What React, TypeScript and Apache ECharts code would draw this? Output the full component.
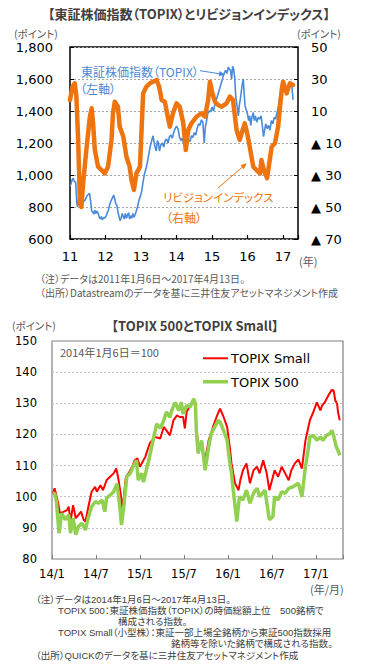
import React, { useEffect, useRef } from "react";
import * as echarts from "echarts";

// ---------- Chart 1: TOPIX (left axis) and revision index (right axis) ----------
const yearLabels = ["11", "12", "13", "14", "15", "16", "17"];
const rightLabels = ["▲ 70", "▲ 50", "▲ 30", "▲ 10", "10", "30", "50"];
const REV_OFFSET = 70; // right axis runs -70..50

const topixData: [number, number][] = [
  [2011.0, 930], [2011.03, 945], [2011.06, 970], [2011.09, 980], [2011.12, 960],
  [2011.16, 955], [2011.19, 830], [2011.21, 800], [2011.24, 850], [2011.28, 860],
  [2011.32, 840], [2011.36, 850], [2011.4, 835], [2011.44, 850], [2011.48, 870],
  [2011.52, 880], [2011.55, 885], [2011.58, 840], [2011.61, 775], [2011.64, 770],
  [2011.67, 755], [2011.7, 780], [2011.73, 760], [2011.76, 775], [2011.79, 760],
  [2011.82, 740], [2011.85, 725], [2011.88, 740], [2011.91, 720], [2011.95, 735],
  [2011.98, 730], [2012.02, 745], [2012.05, 765], [2012.08, 780], [2012.11, 810],
  [2012.14, 830], [2012.17, 845], [2012.2, 860], [2012.23, 875], [2012.26, 850],
  [2012.29, 820], [2012.32, 810], [2012.35, 770], [2012.38, 740], [2012.41, 715],
  [2012.44, 730], [2012.47, 760], [2012.5, 740], [2012.53, 725], [2012.56, 760],
  [2012.59, 730], [2012.62, 750], [2012.65, 765], [2012.68, 725], [2012.71, 745],
  [2012.74, 730], [2012.77, 760], [2012.8, 735], [2012.83, 750], [2012.86, 770],
  [2012.9, 800], [2012.94, 840], [2012.98, 865], [2013.02, 900], [2013.06, 960],
  [2013.1, 1010], [2013.14, 1040], [2013.18, 1080], [2013.22, 1130], [2013.26, 1180],
  [2013.3, 1215], [2013.34, 1245], [2013.37, 1200], [2013.4, 1170], [2013.43, 1150],
  [2013.46, 1215], [2013.49, 1200], [2013.52, 1150], [2013.56, 1190], [2013.6, 1200],
  [2013.64, 1175], [2013.68, 1215], [2013.72, 1225], [2013.76, 1200], [2013.8, 1240],
  [2013.84, 1250], [2013.88, 1230], [2013.92, 1265], [2013.96, 1290], [2014.0, 1305],
  [2014.04, 1290], [2014.08, 1240], [2014.12, 1215], [2014.16, 1230], [2014.2, 1195],
  [2014.24, 1210], [2014.28, 1155], [2014.31, 1195], [2014.34, 1220], [2014.38, 1210],
  [2014.42, 1245], [2014.46, 1235], [2014.5, 1265], [2014.54, 1250], [2014.58, 1290],
  [2014.62, 1320], [2014.66, 1310], [2014.7, 1345], [2014.74, 1330], [2014.78, 1200],
  [2014.81, 1300], [2014.84, 1330], [2014.88, 1385], [2014.92, 1400], [2014.96, 1395],
  [2015.0, 1425], [2015.04, 1400], [2015.08, 1440], [2015.12, 1470], [2015.16, 1500],
  [2015.2, 1530], [2015.24, 1560], [2015.28, 1590], [2015.31, 1615], [2015.35, 1640],
  [2015.38, 1655], [2015.42, 1635], [2015.46, 1675], [2015.49, 1660], [2015.52, 1655],
  [2015.55, 1600], [2015.58, 1680], [2015.61, 1660], [2015.64, 1600], [2015.67, 1480],
  [2015.7, 1440], [2015.74, 1370], [2015.77, 1440], [2015.8, 1480], [2015.84, 1550],
  [2015.88, 1600], [2015.9, 1520], [2015.93, 1430], [2015.96, 1410], [2016.0, 1380],
  [2016.03, 1340], [2016.06, 1370], [2016.09, 1310], [2016.12, 1360], [2016.16, 1390],
  [2016.19, 1340], [2016.22, 1370], [2016.26, 1330], [2016.3, 1360], [2016.34, 1350],
  [2016.38, 1370], [2016.42, 1300], [2016.45, 1240], [2016.48, 1280], [2016.51, 1320],
  [2016.55, 1290], [2016.59, 1310], [2016.63, 1280], [2016.67, 1340], [2016.71, 1320],
  [2016.75, 1360], [2016.79, 1350], [2016.83, 1390], [2016.86, 1420], [2016.9, 1480],
  [2016.94, 1510], [2016.98, 1540], [2017.02, 1550], [2017.06, 1530], [2017.1, 1510],
  [2017.14, 1545], [2017.18, 1560], [2017.22, 1570], [2017.25, 1550], [2017.28, 1470],
];

const revisionData: [number, number][] = [
  [2011.0, 16.9], [2011.07, 25.2], [2011.135, 27.3], [2011.18, 19], [2011.23, -8],
  [2011.28, -47.7], [2011.32, -50], [2011.37, -35], [2011.46, -14.4], [2011.56, 6.4],
  [2011.61, 11.7], [2011.65, 2.3], [2011.7, -14.4], [2011.79, -24.8], [2011.89, -26.9],
  [2011.98, -29], [2012.07, -24.8], [2012.17, -8], [2012.21, 8.6], [2012.26, 15.8],
  [2012.35, 12.7], [2012.4, 0.2], [2012.5, -6], [2012.59, -18.6], [2012.68, -24.8],
  [2012.73, -33], [2012.8, -39.4], [2012.87, -29], [2012.97, -24.8], [2013.06, 21],
  [2013.15, 25.2], [2013.25, 27.3], [2013.44, 29.4], [2013.51, 25.2], [2013.58, 16.9],
  [2013.67, 15.8], [2013.81, 0.2], [2013.9, 8.6], [2014.0, 14.8], [2014.09, 12.7],
  [2014.19, 2.3], [2014.26, -14.4], [2014.33, -1.9], [2014.42, 2.3], [2014.56, 6.4],
  [2014.7, 8.6], [2014.8, 6.4], [2014.89, 16.9], [2014.94, 28.3], [2015.01, 21],
  [2015.08, 15.8], [2015.17, 13.75], [2015.27, 12.7], [2015.41, 14.8], [2015.5, 19],
  [2015.59, 16.9], [2015.69, -1.9], [2015.78, -8], [2015.86, -1.9], [2015.92, 2.3],
  [2015.99, -4], [2016.06, -12.3], [2016.16, -24.8], [2016.25, -26.9], [2016.35, -29],
  [2016.39, -20.6], [2016.46, -26.9], [2016.55, -32], [2016.61, -22.7], [2016.68, -12.3],
  [2016.77, -10.2], [2016.86, 0.2], [2016.96, 23.1], [2017.0, 28.3], [2017.1, 21],
  [2017.19, 27.3], [2017.28, 26.25],
];

// ---------- Chart 2: TOPIX 500 and TOPIX Small (2014/1/6 = 100) ----------
const monthLabels = ["14/1", "14/7", "15/1", "15/7", "16/1", "16/7", "17/1"];

const smallData: [number, number][] = [
  [2014.01, 101.1], [2014.03, 102.7], [2014.07, 97.9], [2014.09, 94.7], [2014.13, 95.1],
  [2014.17, 95.7], [2014.19, 96.8], [2014.21, 92.0], [2014.24, 97.3], [2014.27, 93.1],
  [2014.3, 94.2], [2014.33, 95.2], [2014.36, 92.6], [2014.38, 92.0], [2014.41, 96.3],
  [2014.45, 101.6], [2014.49, 103.2], [2014.51, 101.6], [2014.55, 103.7], [2014.58, 102.1],
  [2014.62, 105.3], [2014.66, 106.4], [2014.7, 107.5], [2014.73, 109.1], [2014.75, 106.4],
  [2014.78, 101.1], [2014.8, 95.7], [2014.82, 101.1], [2014.84, 106.4], [2014.87, 107.5],
  [2014.91, 109.6], [2014.94, 111.7], [2014.97, 112.3], [2015.0, 109.6], [2015.06, 112.8],
  [2015.11, 117.1], [2015.17, 119.2], [2015.23, 118.7], [2015.27, 122.4], [2015.3, 121.3],
  [2015.34, 119.7], [2015.38, 124.5], [2015.42, 126.1], [2015.45, 125.6], [2015.49, 125.6],
  [2015.51, 121.9], [2015.53, 127.2], [2015.57, 129.3], [2015.61, 130.9], [2015.63, 128.8],
  [2015.64, 122.4], [2015.66, 117.1], [2015.7, 116.0], [2015.74, 111.7], [2015.78, 118.1],
  [2015.83, 122.4], [2015.87, 125.6], [2015.91, 128.3], [2015.95, 125.6], [2015.99, 122.4],
  [2016.02, 116.0], [2016.04, 110.7], [2016.08, 104.3], [2016.12, 102.1], [2016.14, 105.3],
  [2016.17, 108.5], [2016.21, 110.7], [2016.25, 104.3], [2016.29, 108.5], [2016.33, 109.6],
  [2016.36, 107.5], [2016.4, 111.7], [2016.44, 107.5], [2016.47, 102.1], [2016.5, 105.3],
  [2016.53, 108.5], [2016.57, 106.4], [2016.61, 109.6], [2016.65, 107.5], [2016.69, 105.3],
  [2016.72, 108.5], [2016.76, 110.7], [2016.8, 112.0], [2016.84, 109.0], [2016.88, 118.0],
  [2016.93, 124.5], [2016.97, 127.2], [2017.01, 130.3], [2017.05, 127.7], [2017.07, 129.3],
  [2017.1, 130.3], [2017.14, 132.5], [2017.18, 134.3], [2017.2, 134.1], [2017.22, 130.9],
  [2017.24, 129.8], [2017.25, 127.2], [2017.27, 124.5],
];

const t500Data: [number, number][] = [
  [2014.01, 101.1], [2014.03, 101.1], [2014.05, 98.5], [2014.08, 88.3], [2014.11, 94.7],
  [2014.15, 92.6], [2014.19, 94.2], [2014.21, 88.3], [2014.24, 93.1], [2014.27, 87.8],
  [2014.3, 90.4], [2014.34, 91.5], [2014.38, 89.3], [2014.41, 93.1], [2014.45, 96.8],
  [2014.49, 98.4], [2014.53, 97.9], [2014.57, 98.9], [2014.6, 95.2], [2014.62, 99.5],
  [2014.66, 100.5], [2014.7, 101.6], [2014.74, 104.2], [2014.77, 96.8], [2014.79, 91.0],
  [2014.82, 97.9], [2014.85, 106.4], [2014.89, 107.5], [2014.92, 109.6], [2014.96, 111.7],
  [2014.98, 105.3], [2015.02, 107.5], [2015.04, 104.7], [2015.08, 109.6], [2015.1, 111.7],
  [2015.14, 117.0], [2015.19, 123.4], [2015.23, 122.0], [2015.27, 124.5], [2015.3, 127.2],
  [2015.34, 125.5], [2015.36, 127.7], [2015.4, 130.3], [2015.44, 127.7], [2015.47, 130.3],
  [2015.49, 126.6], [2015.53, 129.3], [2015.57, 128.8], [2015.61, 131.4], [2015.63, 129.8],
  [2015.64, 121.3], [2015.66, 113.9], [2015.7, 118.1], [2015.74, 108.5], [2015.78, 116.0],
  [2015.81, 120.3], [2015.85, 122.4], [2015.89, 124.5], [2015.91, 124.0], [2015.95, 121.3],
  [2015.99, 118.1], [2016.02, 111.0], [2016.04, 107.5], [2016.06, 102.1], [2016.1, 92.0],
  [2016.13, 100.0], [2016.17, 99.0], [2016.21, 102.1], [2016.25, 97.9], [2016.29, 101.1],
  [2016.33, 102.7], [2016.36, 100.0], [2016.42, 102.1], [2016.47, 92.6], [2016.51, 93.6],
  [2016.53, 100.0], [2016.57, 99.0], [2016.61, 101.6], [2016.65, 101.1], [2016.69, 102.7],
  [2016.74, 103.2], [2016.8, 104.3], [2016.84, 100.0], [2016.88, 109.6], [2016.91, 114.9],
  [2016.93, 119.2], [2016.97, 119.7], [2017.01, 118.1], [2017.05, 119.2], [2017.08, 118.1],
  [2017.12, 119.7], [2017.16, 120.3], [2017.18, 121.3], [2017.2, 119.7], [2017.23, 116.0],
  [2017.25, 114.9], [2017.27, 113.3],
];

const legendNames = ["TOPIX Small", "TOPIX 500"];

const NUM_FONT = "'DejaVu Sans', 'Noto Sans CJK JP', sans-serif";
const JP_FONT = "'Noto Sans CJK JP', sans-serif";
const NOTE_FONT = "'Liberation Sans', 'Noto Sans CJK JP', sans-serif";
const GRAY = "#595959";
const BLUE = "#4a8ad8";
const ORANGE = "#ee7410";
const RED = "#ff0000";
const GREEN = "#92d050";

const near = (a: number, b: number) => Math.abs(a - b) < 1e-6;

function txt(text: string, x: number, y: number, size: number, fill: string, opts: any = {}) {
  return {
    type: "text",
    x,
    y,
    silent: true,
    style: {
      text,
      fill,
      font: `${opts.bold ? "bold " : ""}${size}px ${opts.family || JP_FONT}`,
      textAlign: opts.align || "left",
      textVerticalAlign: "middle",
    },
  };
}

export default function App() {
  const ref = useRef<HTMLDivElement>(null);
  useEffect(() => {
    document.body.style.margin = "0";
    const st = document.createElement("style");
    st.textContent = "svg text { font-feature-settings: 'palt' 1 !important; }";
    document.head.appendChild(st);
    if (!ref.current) return;
    const chart = echarts.init(ref.current, null, { renderer: "svg" });

    const option: any = {
      animation: false,
      backgroundColor: "#ffffff",
      grid: [
        { left: 70, top: 47, width: 228, height: 192, show: true, borderColor: "#000", borderWidth: 1.5, backgroundColor: "transparent" },
        { left: 52, top: 341, width: 291, height: 218, show: true, borderColor: "#808080", borderWidth: 1.2, backgroundColor: "transparent" },
      ],
      xAxis: [
        {
          type: "value", gridIndex: 0, min: 2011, max: 2017.42, interval: 1,
          axisLine: { show: false },
          axisTick: { show: true, inside: true, length: 4, lineStyle: { color: "#000", width: 1.2 } },
          axisLabel: {
            margin: 11, color: "#000", fontSize: 13, fontFamily: NUM_FONT,
            formatter: (v: number) => {
              const i = Math.round(v - 2011);
              return near(v, 2011 + i) && yearLabels[i] ? yearLabels[i] : "";
            },
          },
          splitLine: { show: false },
        },
        {
          type: "value", gridIndex: 1, min: 2014, max: 2017.307, interval: 0.5,
          axisLine: { show: false },
          axisTick: { show: true, inside: true, length: 4, lineStyle: { color: "#808080" } },
          axisLabel: {
            margin: 9, color: "#000", fontSize: 11.5, fontFamily: NUM_FONT,
            formatter: (v: number) => {
              const i = Math.round((v - 2014) * 2);
              return near(v, 2014 + i / 2) && monthLabels[i] ? monthLabels[i] : "";
            },
          },
          splitLine: { show: false },
        },
      ],
      yAxis: [
        {
          type: "value", gridIndex: 0, min: 600, max: 1800, interval: 200, position: "left",
          axisLine: { show: false },
          axisTick: { show: true, inside: true, length: 4, lineStyle: { color: "#000" } },
          axisLabel: {
            margin: 17, color: "#000", fontSize: 13, fontFamily: NUM_FONT,
            formatter: (v: number) => v.toLocaleString("en-US"),
          },
          splitLine: { show: true, lineStyle: { color: "#a6a6a6", type: [2, 2], width: 1 } },
        },
        {
          type: "value", gridIndex: 0, min: 0, max: 120, interval: 20, position: "right",
          axisLine: { show: false },
          axisTick: { show: true, inside: true, length: 4, lineStyle: { color: "#000" } },
          axisLabel: {
            margin: 13, color: "#000", fontSize: 13, fontFamily: NUM_FONT,
            formatter: (v: number) => rightLabels[Math.round(v / 20)] || "",
          },
          splitLine: { show: false },
        },
        {
          type: "value", gridIndex: 1, min: 80, max: 150, interval: 10,
          axisLine: { show: false },
          axisTick: { show: false },
          axisLabel: { margin: 15, color: "#000", fontSize: 11.5, fontFamily: NUM_FONT },
          splitLine: { show: true, lineStyle: { color: "#c0c0c0", type: [2, 2], width: 1 } },
        },
      ],
      series: [
        {
          name: "東証株価指数（TOPIX）", type: "line", xAxisIndex: 0, yAxisIndex: 0,
          data: topixData, showSymbol: false, symbol: "none",
          lineStyle: { color: BLUE, width: 1.6 }, z: 2,
        },
        {
          name: "リビジョンインデックス", type: "line", xAxisIndex: 0, yAxisIndex: 1,
          data: revisionData.map(([t, r]) => [t, r + REV_OFFSET]), showSymbol: false, symbol: "none",
          lineStyle: { color: ORANGE, width: 4.5, join: "round", cap: "round" }, z: 3,
        },
        {
          name: legendNames[0], type: "line", xAxisIndex: 1, yAxisIndex: 2,
          data: smallData, showSymbol: false, symbol: "none",
          lineStyle: { color: RED, width: 2 }, z: 2,
        },
        {
          name: legendNames[1], type: "line", xAxisIndex: 1, yAxisIndex: 2,
          data: t500Data, showSymbol: false, symbol: "none",
          lineStyle: { color: GREEN, width: 3.5 }, z: 3,
        },
      ],
      graphic: [
        // chart 1 texts
        txt("【東証株価指数（TOPIX）とリビジョンインデックス】", 189, 13, 13, "#404040", { bold: true, align: "center" }),
        txt("(ポイント)", 14, 33, 10.5, GRAY),
        txt("(ポイント)", 297, 33, 10.5, GRAY),
        txt("(年)", 299, 261, 11, GRAY),
        txt("東証株価指数（TOPIX）", 81, 71, 12, BLUE),
        txt("（左軸）", 80, 88, 12, BLUE),
        { type: "line", silent: true, shape: { x1: 200, y1: 70.7, x2: 220, y2: 73.8 }, style: { stroke: BLUE, lineWidth: 1 } },
        { type: "polygon", silent: true, shape: { points: [[225, 74.5], [218.7, 76.4], [219.5, 71.1]] }, style: { fill: BLUE } },
        txt("リビジョンインデックス", 163, 197, 11.5, ORANGE),
        txt("（右軸）", 166, 217, 12, ORANGE),
        { type: "line", silent: true, shape: { x1: 218, y1: 188, x2: 243, y2: 166.5 }, style: { stroke: ORANGE, lineWidth: 1 } },
        { type: "polygon", silent: true, shape: { points: [[246.7, 163.3], [243.8, 169.3], [240.5, 165.3]] }, style: { fill: ORANGE } },
        txt("（注）データは2011年1月6日～2017年4月13日。", 40, 278, 10, GRAY),
        txt("（出所）Datastreamのデータを基に三井住友アセットマネジメント作成", 40, 292, 10, GRAY),
        // chart 2 texts
        txt("【TOPIX 500とTOPIX Small】", 195, 325, 13, "#404040", { bold: true, align: "center" }),
        txt("(ポイント)", 12, 325, 10.5, GRAY),
        txt("2014年1月6日＝100", 60, 352, 11, GRAY),
        { type: "rect", silent: true, shape: { x: 203, y: 357.3, width: 25, height: 2 }, style: { fill: RED } },
        txt(legendNames[0], 231, 358.5, 13, "#000", { family: NUM_FONT }),
        { type: "rect", silent: true, shape: { x: 203, y: 380, width: 25, height: 3.5 }, style: { fill: GREEN } },
        txt(legendNames[1], 231, 382, 13, "#000", { family: NUM_FONT }),
        txt("(年/月)", 310, 589, 11, GRAY),
        txt("（注）データは2014年1月6日～2017年4月13日。", 36, 599, 9.5, "#404040", { family: NOTE_FONT }),
        txt("TOPIX 500：東証株価指数（TOPIX）の時価総額上位　500銘柄で", 58, 610.5, 9.5, "#404040", { family: NOTE_FONT }),
        txt("構成される指数。", 118, 621.5, 9.5, "#404040", { family: NOTE_FONT }),
        txt("TOPIX Small（小型株）：東証一部上場全銘柄から東証500指数採用", 58, 632.5, 9.5, "#404040", { family: NOTE_FONT }),
        txt("銘柄等を除いた銘柄で構成される指数。", 171, 643.5, 9.5, "#404040", { family: NOTE_FONT }),
        txt("（出所）QUICKのデータを基に三井住友アセットマネジメント作成", 36, 655, 9.5, "#404040", { family: NOTE_FONT }),
      ],
    };
    chart.setOption(option);
    return () => {
      chart.dispose();
      st.remove();
    };
  }, []);
  return (
    <div
      ref={ref}
      style={{ position: "absolute", left: 0, top: 0, width: 369, height: 665, background: "#fff" }}
    />
  );
}
